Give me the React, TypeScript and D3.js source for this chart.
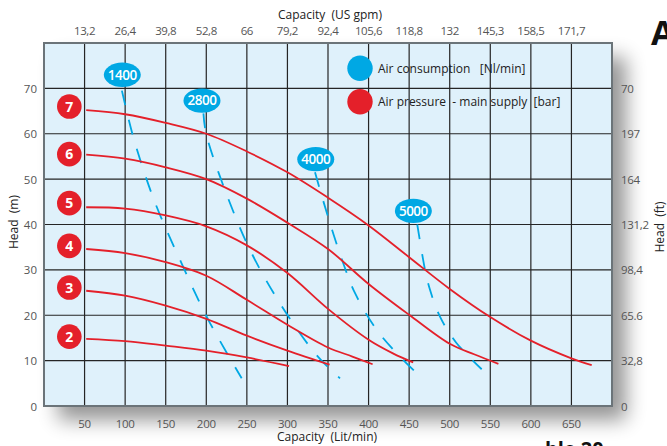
import React from "react";
import * as d3 from "d3";

const capacityTicks = [50, 100, 150, 200, 250, 300, 350, 400, 450, 500, 550, 600, 650];
const usGpmLabels = ["13,2", "26,4", "39,8", "52,8", "66", "79,2", "92,4", "105,6", "118,8", "132", "145,3", "158,5", "171,7"];
const headTicks = [0, 10, 20, 30, 40, 50, 60, 70];
const headFtLabels = ["0", "32,8", "65.6", "98,4", "131,2", "164", "197", "70"];

const pressureNames = ["7", "6", "5", "4", "3", "2"];
const pressureLabelHead = [66, 55.5, 44.7, 35.3, 26.1, 15.3];
const p7: [number, number][] = [[52, 65.2], [100, 64.3], [150, 62.4], [200, 60], [250, 56.1], [300, 51.5], [350, 45.9], [400, 39.8], [450, 32.8], [500, 25.8], [550, 19.6], [600, 14.4], [650, 10.5], [675, 9]];
const p6: [number, number][] = [[52, 55.4], [100, 54.5], [150, 52.6], [200, 50], [250, 45.7], [300, 40.4], [350, 34.6], [400, 26.9], [450, 20.1], [500, 13.7], [530, 11.4], [560, 9.3]];
const p5: [number, number][] = [[52, 43.8], [100, 43.5], [150, 42], [200, 39.6], [250, 35.4], [300, 29.3], [350, 21.4], [400, 14.6], [430, 11.6], [455, 9.6]];
const p4: [number, number][] = [[52, 34.6], [100, 33.7], [150, 31.7], [200, 28.7], [250, 23.4], [300, 17.9], [350, 12.9], [380, 10.9], [405, 9.2]];
const p3: [number, number][] = [[52, 25.4], [100, 24.3], [150, 22.1], [200, 19.2], [250, 15.5], [300, 12.2], [352, 9.1]];
const p2: [number, number][] = [[52, 14.8], [100, 14.3], [150, 13.3], [200, 12.2], [250, 10.7], [302, 8.8]];
const pressureCurves = [p7, p6, p5, p4, p3, p2];

const airNames = ["1400", "2800", "4000", "5000"];
const airBubbles: [number, number][] = [[96.5, 73], [194.7, 67.3], [334.9, 54.4], [455.2, 43]];
const a1400: [number, number][] = [[96, 69.5], [110, 59.3], [135.6, 45.4], [167.6, 32.2], [202.5, 19], [243.6, 6.1]];
const a2800: [number, number][] = [[196.5, 64.5], [199.7, 60.1], [223, 47.6], [253.9, 34.4], [290.9, 22.6], [336, 11.2], [364.8, 6.1]];
const a4000: [number, number][] = [[334, 51.5], [350, 41.7], [368.9, 31.4], [383.5, 24.8], [407.9, 17.3], [432.6, 12], [467, 5.9]];
const a5000: [number, number][] = [[460, 40], [469.6, 30], [475.7, 25.6], [488, 19.7], [507.8, 14], [539.4, 8.1]];
const airCurves = [a1400, a2800, a4000, a5000];

const W = 667, H = 446;
const L = 44, R = 612, T = 43, B = 406;
const RED = "#e4202a";
const BLUE = "#00a8e4";
const FONT = "'Open Sans', 'Noto Sans', sans-serif";

export default function App() {
  const x = d3.scaleLinear().domain([0, 700]).range([L, R]);
  const y = d3.scaleLinear().domain([0, 80]).range([B, T]);
  const line = d3.line<[number, number]>().x(d => x(d[0])).y(d => y(d[1])).curve(d3.curveCatmullRom.alpha(0.5));

  return (
    <svg width={W} height={H} style={{ position: "absolute", left: 0, top: 0, background: "#fff" }} fontFamily={FONT}>
      <defs>
        <filter id="sh" x="-10%" y="-10%" width="130%" height="130%">
          <feGaussianBlur in="SourceAlpha" stdDeviation="10" />
          <feOffset dx="14" dy="14" result="b" />
          <feComponentTransfer><feFuncA type="linear" slope="0.42" /></feComponentTransfer>
          <feMerge><feMergeNode /><feMergeNode in="SourceGraphic" /></feMerge>
        </filter>
        <clipPath id="clip"><rect x={L} y={T} width={R - L} height={B - T} /></clipPath>
      </defs>
      <rect x={L} y={T} width={R - L} height={B - T} fill="#dff1fb" filter="url(#sh)" />
      {capacityTicks.map(v => (
        <line key={"vx" + v} x1={x(v)} x2={x(v)} y1={T} y2={B} stroke="#252525" strokeWidth={1.2} />
      ))}
      {headTicks.filter(v => v > 0).map(v => (
        <line key={"hy" + v} x1={L} x2={R} y1={y(v)} y2={y(v)} stroke="#252525" strokeWidth={1.2} />
      ))}
      <rect x={L} y={T} width={R - L} height={B - T} fill="none" stroke="#6b7479" strokeWidth={2} />

      {/* legend */}
      <circle cx={360} cy={68.3} r={12.7} fill={BLUE} />
      <text x={378} y={72.5} fontSize={12} fill="#222" style={{ whiteSpace: "pre" }}>{"Air consumption   [Nl/min]"}</text>
      <circle cx={360} cy={101.7} r={12.7} fill={RED} />
      <text x={378} y={106} fontSize={12} fill="#222" style={{ whiteSpace: "pre" }}>{"Air pressure  - main supply  [bar]"}</text>

      <g clipPath="url(#clip)">
        {airCurves.map((c, i) => (
          <path key={"a" + i} d={line(c) || ""} fill="none" stroke={BLUE} strokeWidth={1.8} strokeDasharray="15 15" />
        ))}
        {pressureCurves.map((c, i) => (
          <path key={"p" + i} d={line(c) || ""} fill="none" stroke={RED} strokeWidth={1.8} />
        ))}
      </g>

      {airBubbles.map((b, i) => (
        <g key={"b" + i}>
          <ellipse cx={x(b[0])} cy={y(b[1])} rx={18.5} ry={12.2} fill={BLUE} />
          <text x={x(b[0])} y={y(b[1]) + 4.8} textAnchor="middle" fontSize={13.5} fontWeight={600} fill="#fff" letterSpacing={-0.5}>{airNames[i]}</text>
        </g>
      ))}
      {pressureNames.map((n, i) => (
        <g key={"r" + n}>
          <circle cx={x(31.2)} cy={y(pressureLabelHead[i])} r={12.3} fill={RED} />
          <text x={x(31.2)} y={y(pressureLabelHead[i]) + 5} textAnchor="middle" fontSize={14} fontWeight={700} fill="#fff">{n}</text>
        </g>
      ))}

      {/* axes labels */}
      {capacityTicks.map(v => (
        <text key={"bt" + v} x={x(v)} y={428} textAnchor="middle" fontSize={11.5} fill="#555" letterSpacing={-0.3}>{v}</text>
      ))}
      {capacityTicks.map((v, i) => (
        <text key={"tt" + v} x={x(v)} y={35} textAnchor="middle" fontSize={11.5} fill="#555" letterSpacing={-0.4}>{usGpmLabels[i]}</text>
      ))}
      {headTicks.map(v => (
        <text key={"ly" + v} x={37} y={y(v) + 4.5} textAnchor="end" fontSize={11.5} fill="#555">{v}</text>
      ))}
      {headTicks.map((v, i) => (
        <text key={"ry" + v} x={621} y={y(v) + 4.5} textAnchor="start" fontSize={11.5} fill="#555" letterSpacing={-0.3}>{headFtLabels[i]}</text>
      ))}
      <text x={327} y={441} textAnchor="middle" fontSize={12} fill="#222" style={{ whiteSpace: "pre" }}>{"Capacity  (Lit/min)"}</text>
      <text x={330} y={19} textAnchor="middle" fontSize={12} fill="#222" style={{ whiteSpace: "pre" }}>{"Capacity  (US gpm)"}</text>
      <text transform="translate(18,222) rotate(-90)" textAnchor="middle" fontSize={12} fill="#222" style={{ whiteSpace: "pre" }}>{"Head  (m)"}</text>
      <text transform="translate(664,227) rotate(-90)" textAnchor="middle" fontSize={12} fill="#222" style={{ whiteSpace: "pre" }}>{"Head  (ft)"}</text>

      <text x={651} y={45} fontSize={34} fontWeight={700} fill="#111">A</text>
      <text x={545} y={456} fontSize={20} fontWeight={700} fill="#111">ble 20</text>
    </svg>
  );
}
